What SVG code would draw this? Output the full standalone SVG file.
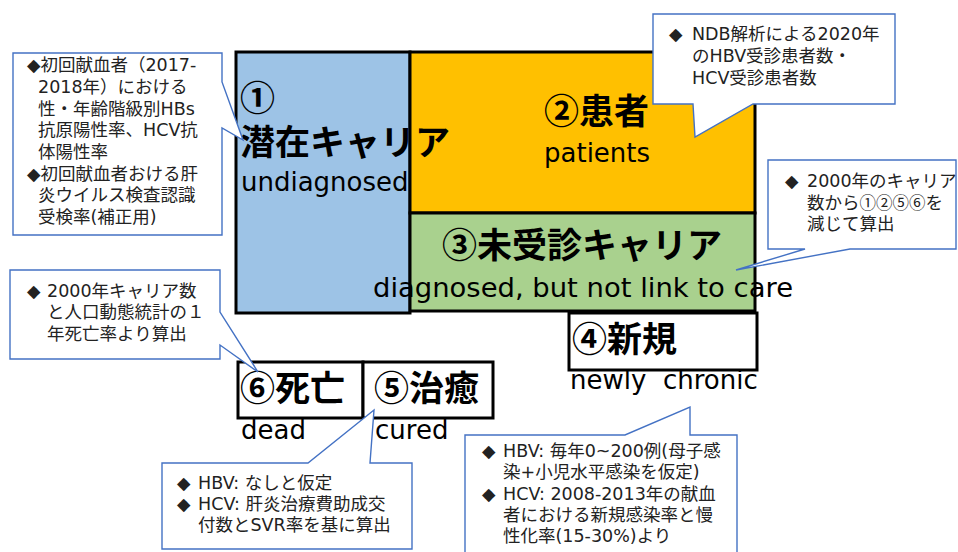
<svg xmlns="http://www.w3.org/2000/svg" width="958" height="552" viewBox="0 0 958 552">
<style>
.box{stroke:#000;stroke-width:3}
.jp{font-family:"Noto Sans CJK JP","DejaVu Sans",sans-serif;font-weight:700;font-size:35px;fill:#000}
.en{font-family:"DejaVu Sans","Noto Sans CJK JP",sans-serif;font-size:26px;fill:#000}
.co{fill:#fff;stroke:#4472C4;stroke-width:1.4}
.ct{font-family:"DejaVu Sans","Noto Sans CJK JP",sans-serif;font-size:17.5px;fill:#222}
.cj{font-family:"Noto Sans CJK JP",sans-serif;font-size:16.5px}
</style>
<rect width="958" height="552" fill="#fff"/>
<g id="node1">
<rect class="box" x="236" y="52" width="174" height="261" fill="#9DC3E6"/>
</g>
<g id="node2">
<rect class="box" x="410" y="52" width="345" height="161" fill="#FFC000"/>
<text class="jp" x="544" y="124">②患者</text>
<text class="en" x="544" y="162">patients</text>
</g>
<g id="node3">
<rect class="box" x="410" y="213" width="345" height="98" fill="#A9D18E"/>
<text class="jp" x="442" y="258">③未受診キャリア</text>
</g>
<g id="node1-text">
<text class="jp" x="240" y="111" font-size="31">①</text>
<text class="jp" x="240" y="155">潜在キャリア</text>
<text class="en" x="241" y="191">undiagnosed</text>
</g>
<text class="en" x="373" y="297" textLength="420" lengthAdjust="spacingAndGlyphs">diagnosed, but not link to care</text>
<g id="node4">
<rect class="box" x="569" y="313" width="188" height="57" fill="#fff"/>
<text class="jp" x="572" y="352">④新規</text>
<text class="en" x="570" y="389" xml:space="preserve">newly  chronic</text>
</g>
<g id="node6">
<rect class="box" x="238" y="362" width="125" height="56" fill="#fff"/>
<text class="jp" x="240" y="401">⑥死亡</text>
<text class="en" x="241" y="439">dead</text>
</g>
<g id="node5">
<rect class="box" x="363" y="362" width="130" height="56" fill="#fff"/>
<text class="jp" x="374" y="401">⑤治癒</text>
<text class="en" x="375" y="439">cured</text>
</g>
<g id="connectors">
<g id="callout-left-top">
<path class="co" d="M13,53 H222 V82 L243,140 L222,128 V235 H13 Z"/>
<text class="ct"><tspan x="27" y="71">◆初回献血者（2017-</tspan><tspan x="38" y="93">2018年）における</tspan><tspan x="38" y="115">性・年齢階級別HBs</tspan><tspan x="38" y="136">抗原陽性率、HCV抗</tspan><tspan x="38" y="158">体陽性率</tspan><tspan x="27" y="180">◆初回献血者おける肝</tspan><tspan x="38" y="201">炎ウイルス検査認識</tspan><tspan x="38" y="223">受検率(補正用)</tspan></text>
</g>
<g id="callout-top-right">
<path class="co" d="M653,14 H895 V104 H753 L695,137 L693,104 H653 Z"/>
<text class="ct" x="669" y="40">◆</text>
<text class="ct"><tspan x="692" y="40">NDB解析による2020年</tspan><tspan x="692" y="62">のHBV受診患者数・</tspan><tspan x="692" y="84">HCV受診患者数</tspan></text>
</g>
<g id="callout-right">
<path class="co" d="M768,160 H956 V249 H850 L736,270 L805,249 H768 Z"/>
<text class="ct" x="785" y="187">◆</text>
<text class="ct"><tspan x="807" y="187">2000年のキャリア</tspan><tspan x="807" y="209">数から<tspan class="cj">①②⑤⑥</tspan>を</tspan><tspan x="807" y="230">減じて算出</tspan></text>
</g>
<g id="callout-left-mid">
<path class="co" d="M10,270 H220 V312 L258,372 L220,345 V359 H10 Z"/>
<text class="ct" x="27" y="297">◆</text>
<text class="ct"><tspan x="47" y="297">2000年キャリア数</tspan><tspan x="47" y="318">と人口動態統計の１</tspan><tspan x="47" y="340">年死亡率より算出</tspan></text>
</g>
<g id="callout-bottom-left">
<path class="co" d="M162,463 H308 L374,410 L370,463 H412 V549 H162 Z"/>
<text class="ct"><tspan x="177" y="489">◆</tspan><tspan x="177" y="510">◆</tspan></text>
<text class="ct"><tspan x="198" y="489">HBV: なしと仮定</tspan><tspan x="198" y="510">HCV: 肝炎治療費助成交</tspan><tspan x="198" y="531">付数とSVR率を基に算出</tspan></text>
</g>
<g id="callout-bottom-right">
<path class="co" d="M465,435 H625 L690,407 V435 H737 V560 H465 Z"/>
<text class="ct"><tspan x="482" y="457">◆</tspan><tspan x="482" y="500">◆</tspan></text>
<text class="ct"><tspan x="503" y="457">HBV: 毎年0~200例(母子感</tspan><tspan x="503" y="478">染+小児水平感染を仮定)</tspan><tspan x="503" y="500">HCV: 2008-2013年の献血</tspan><tspan x="503" y="521">者における新規感染率と慢</tspan><tspan x="503" y="542">性化率(15-30%)より</tspan></text>
</g>
</g>
</svg>
